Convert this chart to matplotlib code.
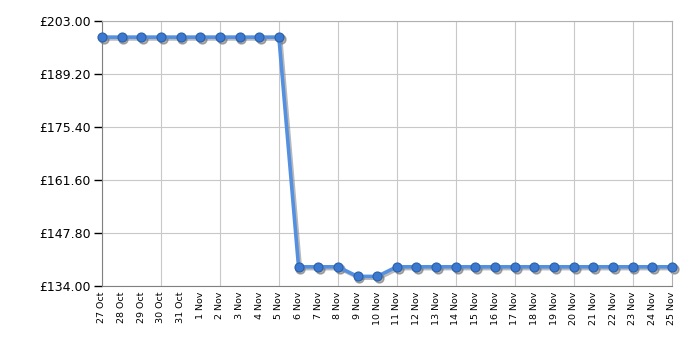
import numpy as np
import matplotlib
matplotlib.use("Agg")
import matplotlib.pyplot as plt
import matplotlib.transforms as mtransforms

# fechas y precios
fechas = ["27 Oct", "28 Oct", "29 Oct", "30 Oct", "31 Oct", "1 Nov", "2 Nov", "3 Nov",
          "4 Nov", "5 Nov", "6 Nov", "7 Nov", "8 Nov", "9 Nov", "10 Nov", "11 Nov",
          "12 Nov", "13 Nov", "14 Nov", "15 Nov", "16 Nov", "17 Nov", "18 Nov", "19 Nov",
          "20 Nov", "21 Nov", "22 Nov", "23 Nov", "24 Nov", "25 Nov"]
precios = [198.8, 198.8, 198.8, 198.8, 198.8, 198.8, 198.8, 198.8, 198.8, 198.8,
           139.0, 139.0, 139.0, 136.5, 136.5, 139.0, 139.0, 139.0, 139.0, 139.0,
           139.0, 139.0, 139.0, 139.0, 139.0, 139.0, 139.0, 139.0, 139.0, 139.0]
yticks = [134.0, 147.8, 161.6, 175.4, 189.2, 203.0]

x = np.arange(len(fechas))

fig = plt.figure(figsize=(7, 3.5), dpi=100)
ax = fig.add_axes([102/700, 1-286/350, 570/700, 265/350])

# sombra desplazada hacia abajo a la derecha
tr = mtransforms.offset_copy(ax.transData, fig=fig, x=1.3, y=-1.3, units="points")
ax.plot(x, precios, color="#808080", lw=2.6, marker="o", ms=6.5, mfc="#707070",
        mec="#707070", alpha=0.55, transform=tr, zorder=2, clip_on=False)
ax.plot(x, precios, color="#5590e0", lw=2.6, marker="o", ms=6.5,
        mfc="#3b78d0", mec="#2a5fa8", mew=0.8, zorder=3, clip_on=False)

ax.set_xlim(0, len(fechas)-1)
ax.set_ylim(134, 203)
ax.set_yticks(yticks)
ax.set_yticklabels(["£%.2f" % v for v in yticks], fontsize=9)
ax.set_xticks(x)
ax.set_xticklabels(fechas, rotation=90, fontsize=6.8)
ax.set_xticks(x[::3], minor=True)

ax.tick_params(axis="x", which="major", length=0, pad=4)
ax.tick_params(axis="x", which="minor", length=4, color="black", width=1)
ax.tick_params(axis="y", length=6, color="black", width=1, pad=2)

ax.grid(False)
for xx in x[::3]:
    ax.axvline(xx, color="#c8c8c8", lw=0.8, zorder=0)
for yy in yticks:
    ax.axhline(yy, color="#c8c8c8", lw=0.8, zorder=0)

for s in ["top", "right"]:
    ax.spines[s].set_color("#b0b0b0")
for s in ["left", "bottom"]:
    ax.spines[s].set_color("#808080")

fig.savefig("out.png", dpi=100)
